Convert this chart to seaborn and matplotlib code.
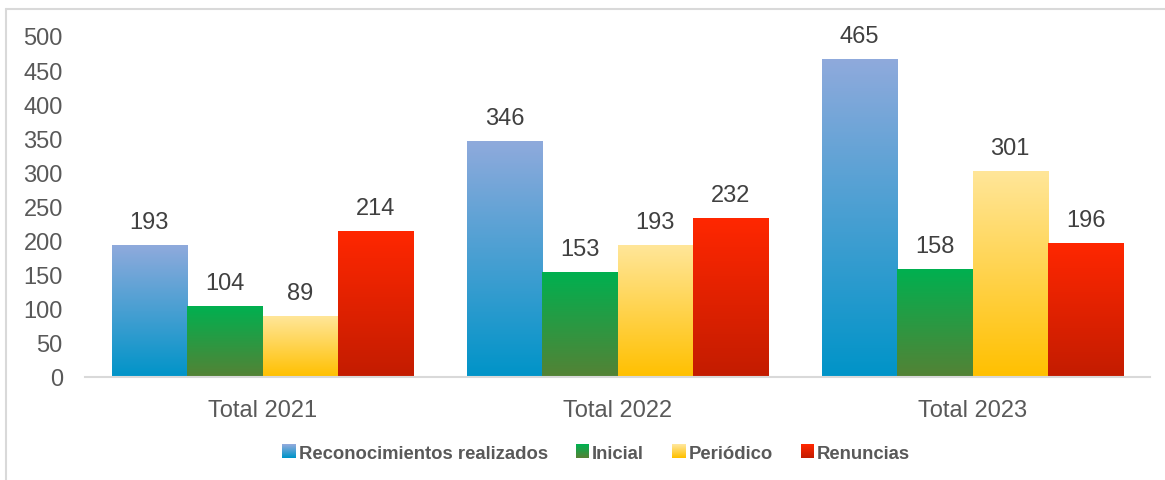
import numpy as np
import pandas as pd
import seaborn as sns
import matplotlib.pyplot as plt
from matplotlib.colors import LinearSegmentedColormap
from matplotlib.patches import Rectangle
from matplotlib.lines import Line2D
from matplotlib.legend_handler import HandlerBase

# datos del gráfico
categorias = ['Total 2021', 'Total 2022', 'Total 2023']
series = ['Reconocimientos realizados', 'Inicial', 'Periódico', 'Renuncias']
reconocimientos = [193, 346, 465]
inicial = [104, 153, 158]
periodico = [89, 193, 301]
renuncias = [214, 232, 196]

# colores del degradado (arriba, abajo)
degradados = {
    'Reconocimientos realizados': ('#8FAADC', '#0094C8'),
    'Inicial': ('#00B050', '#548235'),
    'Periódico': ('#FFE699', '#FFC000'),
    'Renuncias': ('#FF2700', '#C31C00'),
}

df = pd.DataFrame({
    'categoria': categorias * 4,
    'serie': np.repeat(series, 3),
    'valor': reconocimientos + inicial + periodico + renuncias,
})


class HandlerDegradado(HandlerBase):
    # cuadrado de leyenda con degradado vertical
    def __init__(self, arriba, abajo, n=14):
        super().__init__()
        self.cmap = LinearSegmentedColormap.from_list('g', [abajo, arriba])
        self.n = n

    def create_artists(self, legend, orig_handle, xdescent, ydescent,
                       width, height, fontsize, trans):
        lado = min(width, height)
        x0 = -xdescent + (width - lado)
        y0 = -ydescent + (height - lado) / 2
        paso = lado / self.n
        artistas = []
        for i in range(self.n):
            r = Rectangle((x0, y0 + i * paso), lado, paso * 1.05,
                          facecolor=self.cmap(i / (self.n - 1)),
                          edgecolor='none', transform=trans)
            artistas.append(r)
        return artistas


sns.set_style('white')
plt.rcParams['font.family'] = ['Liberation Sans', 'DejaVu Sans']

fig = plt.figure(figsize=(11.65, 4.81), dpi=100)
ax = fig.add_axes([85 / 1165, 1 - 378 / 481, 1065 / 1165, 341 / 481])

sns.barplot(data=df, x='categoria', y='valor', hue='serie', order=categorias,
            hue_order=series, width=0.85, saturation=1, legend=False, ax=ax)

ax.set_ylim(0, 500)
ax.set_xlim(-0.5, 2.5)

# reemplazar el relleno de cada barra por un degradado
gradiente = np.linspace(1, 0, 256).reshape(-1, 1)
for serie, cont in zip(series, ax.containers):
    arriba, abajo = degradados[serie]
    cmap = LinearSegmentedColormap.from_list(serie, [abajo, arriba])
    for barra in cont:
        x, w, h = barra.get_x(), barra.get_width(), barra.get_height()
        barra.set_facecolor('none')
        barra.set_edgecolor('none')
        ax.imshow(gradiente, cmap=cmap, vmin=0, vmax=1, aspect='auto',
                  extent=[x, x + w, 0, h], zorder=2, interpolation='bilinear')
        ax.annotate(f'{int(round(h))}', (x + w / 2, h), xytext=(0, 9),
                    textcoords='offset points', ha='center', va='bottom',
                    fontsize=17, color='#404040', annotation_clip=False)

ax.set_ylim(0, 500)
ax.set_xlim(-0.5, 2.5)
ax.set_yticks(range(0, 501, 50))
ax.set_xlabel('')
ax.set_ylabel('')
ax.tick_params(axis='both', length=0, labelsize=17, labelcolor='#595959')
ax.tick_params(axis='y', pad=16)
ax.tick_params(axis='x', pad=16)

for lado in ['top', 'right', 'left']:
    ax.spines[lado].set_visible(False)
ax.spines['bottom'].set_color('#D9D9D9')
ax.spines['bottom'].set_linewidth(1.5)

# leyenda
handles = [Rectangle((0, 0), 1, 1) for _ in series]
mapa = {h: HandlerDegradado(*degradados[s]) for h, s in zip(handles, series)}
leg = fig.legend(handles, series, handler_map=mapa, loc='center',
                 bbox_to_anchor=(596 / 1165, 1 - 454 / 481), ncol=4,
                 frameon=False, handlelength=0.75, handleheight=0.75,
                 handletextpad=0.15, columnspacing=1.5,
                 prop={'size': 13.3, 'weight': 'bold'})
for t in leg.get_texts():
    t.set_color('#595959')

# marco exterior del gráfico
fig.add_artist(Line2D([5.5 / 1165, 1], [1 - 10 / 481, 1 - 10 / 481],
                      color='#D9D9D9', lw=1.5))
fig.add_artist(Line2D([5.5 / 1165, 5.5 / 1165], [0, 1 - 10 / 481],
                      color='#D9D9D9', lw=1.5))

plt.savefig('out.png', dpi=100)
